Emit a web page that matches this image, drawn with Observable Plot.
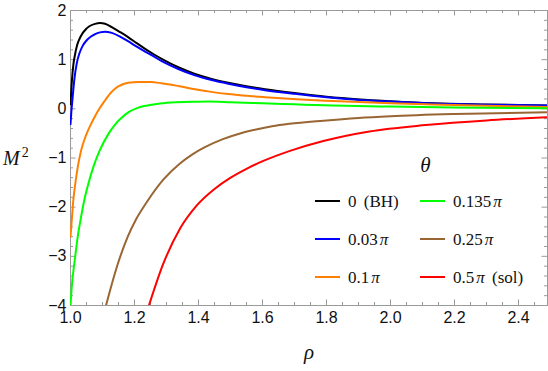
<!DOCTYPE html>
<html><head><meta charset="utf-8">
<script src="https://cdn.jsdelivr.net/npm/d3@7"></script>
<script src="https://cdn.jsdelivr.net/npm/@observablehq/plot@0.6"></script>
<style>html,body{margin:0;padding:0;background:#fff} svg{display:block}</style>
</head><body><div id="chart"></div>
<script>
// ---- data ----
const seriesNames  = ["0 (BH)", "0.03π", "0.1π", "0.135π", "0.25π", "0.5π (sol)"];
const seriesColors = ["#000000", "#0000ff", "#ff8000", "#00ff00", "#996633", "#ff0000"];

const rhoBH = [1.0, 1.0047, 1.009, 1.014, 1.02, 1.028, 1.038, 1.048, 1.059, 1.0766, 1.092, 1.108, 1.129, 1.155, 1.181, 1.207, 1.233, 1.26, 1.285, 1.31, 1.337, 1.389, 1.441, 1.493, 1.55, 1.608, 1.7, 1.8, 1.905, 2.0, 2.13, 2.3, 2.49];
const m2BH  = [0.094, 0.60, 0.90, 1.10, 1.28, 1.42, 1.54, 1.62, 1.68, 1.728, 1.745, 1.73, 1.66, 1.56, 1.455, 1.335, 1.22, 1.11, 1.016, 0.93, 0.846, 0.71, 0.61, 0.53, 0.46, 0.40, 0.32, 0.245, 0.19, 0.155, 0.115, 0.09, 0.07];

const rho003 = [1.0, 1.0025, 1.007, 1.012, 1.02, 1.028, 1.038, 1.05, 1.064, 1.077, 1.092, 1.108, 1.129, 1.155, 1.181, 1.207, 1.233, 1.26, 1.285, 1.31, 1.337, 1.389, 1.441, 1.493, 1.55, 1.608, 1.7, 1.8, 1.905, 2.0, 2.13, 2.3, 2.49];
const m2003  = [-0.31, -0.075, 0.26, 0.60, 0.94, 1.13, 1.28, 1.39, 1.47, 1.52, 1.555, 1.57, 1.545, 1.47, 1.37, 1.265, 1.165, 1.065, 0.97, 0.89, 0.81, 0.68, 0.585, 0.51, 0.44, 0.38, 0.305, 0.235, 0.18, 0.147, 0.11, 0.085, 0.066];

const rho01 = [1.0, 1.0047, 1.0088, 1.015, 1.0225, 1.033, 1.049, 1.064, 1.075, 1.09, 1.108, 1.125, 1.139, 1.16, 1.181, 1.212, 1.25, 1.285, 1.34, 1.389, 1.44, 1.493, 1.55, 1.608, 1.72, 1.82, 2.0, 2.13, 2.3, 2.49];
const m201  = [-2.6, -2.2, -1.86, -1.52, -1.19, -0.85, -0.53, -0.31, -0.17, 0.0, 0.17, 0.32, 0.41, 0.49, 0.53, 0.545, 0.545, 0.52, 0.46, 0.40, 0.345, 0.30, 0.265, 0.236, 0.19, 0.16, 0.115, 0.09, 0.064, 0.037];

const rho0135 = [1.0, 1.0047, 1.0105, 1.017, 1.024, 1.033, 1.043, 1.056, 1.071, 1.09, 1.119, 1.138, 1.158, 1.184, 1.21, 1.24, 1.28, 1.33, 1.38, 1.43, 1.5, 1.6, 1.7, 1.82, 2.0, 2.2, 2.49];
const m20135  = [-4.0, -3.56, -3.22, -2.88, -2.54, -2.2, -1.86, -1.52, -1.19, -0.867, -0.504, -0.329, -0.193, -0.058, 0.02, 0.068, 0.11, 0.135, 0.145, 0.147, 0.135, 0.113, 0.092, 0.068, 0.046, 0.028, 0.01];

const rho025 = [1.105, 1.111, 1.147, 1.179, 1.205, 1.238, 1.29, 1.342, 1.38, 1.42, 1.476, 1.53, 1.58, 1.63, 1.684, 1.79, 1.9, 2.0, 2.2, 2.49];
const m2025  = [-4.15, -4.0, -3.17, -2.6, -2.245, -1.9, -1.44, -1.11, -0.93, -0.78, -0.615, -0.5, -0.42, -0.355, -0.305, -0.24, -0.185, -0.15, -0.105, -0.068];

const rho05 = [1.24, 1.245, 1.29, 1.342, 1.394, 1.452, 1.498, 1.55, 1.6025, 1.686, 1.79, 1.934, 2.11, 2.3, 2.49];
const m205  = [-4.1, -4.0, -3.15, -2.44, -1.97, -1.62, -1.41, -1.22, -1.06, -0.855, -0.655, -0.46, -0.33, -0.235, -0.17];

const xTicks = [1.0, 1.2, 1.4, 1.6, 1.8, 2.0, 2.2, 2.4];
const yTicks = [-4, -3, -2, -1, 0, 1, 2];

// ---- build table ----
const rhoLists = [rhoBH, rho003, rho01, rho0135, rho025, rho05];
const m2Lists  = [m2BH, m2003, m201, m20135, m2025, m205];
const data = [];
rhoLists.forEach((rs, i) => rs.forEach((r, j) => data.push({rho: r, m2: m2Lists[i][j], series: seriesNames[i]})));

const xMinor = d3.range(1.05, 2.49, 0.05).filter(v => Math.abs(v / 0.2 - Math.round(v / 0.2)) > 1e-6);
const yMinor = d3.range(-3.8, 2, 0.2).filter(v => Math.abs(v - Math.round(v)) > 1e-6);

const W = 548, H = 371, mL = 70, mR = 1, mT = 10, mB = 66;
const pw = W - mL - mR, ph = H - mT - mB;
const frameColor = "#9a9a9a";
const major = 5.5, minor = 3;

const chart = Plot.plot({
  width: W, height: H,
  marginLeft: mL, marginRight: mR, marginTop: mT, marginBottom: mB,
  x: {domain: [1, 1 + pw / 320], label: null},
  y: {domain: [-4, 2], label: null},
  color: {domain: seriesNames, range: seriesColors},
  style: {fontFamily: "'Liberation Sans', Arial, sans-serif", fontSize: "16px", color: "#000", background: "#fff"},
  marks: [
    Plot.frame({stroke: frameColor}),
    // bottom ticks
    Plot.tickX(xTicks, {x: d => d, stroke: frameColor, insetTop: ph - major}),
    Plot.tickX(xMinor, {x: d => d, stroke: frameColor, insetTop: ph - minor}),
    // top ticks
    Plot.tickX(xTicks, {x: d => d, stroke: frameColor, insetBottom: ph - major}),
    Plot.tickX(xMinor, {x: d => d, stroke: frameColor, insetBottom: ph - minor}),
    // left ticks
    Plot.tickY(yTicks, {y: d => d, stroke: frameColor, insetRight: pw - major}),
    Plot.tickY(yMinor, {y: d => d, stroke: frameColor, insetRight: pw - minor}),
    // right ticks
    Plot.tickY(yTicks, {y: d => d, stroke: frameColor, insetLeft: pw - major}),
    Plot.tickY(yMinor, {y: d => d, stroke: frameColor, insetLeft: pw - minor}),
    Plot.line(data, {x: "rho", y: "m2", z: "series", stroke: "series", strokeWidth: 2, curve: "monotone-x", clip: true}),
    Plot.axisX({ticks: xTicks, tickSize: 0, tickPadding: 6.5, tickFormat: d3.format(".1f"), label: null, fill: "#111"}),
    Plot.axisY({ticks: yTicks, tickSize: 0, tickPadding: 4, tickFormat: d3.format("d"), label: null, fill: "#111"})
  ]
});
document.getElementById("chart").appendChild(chart);

// ---- labels and legend ----
const svg = d3.select(chart);
const serif = "'Liberation Serif', 'Times New Roman', serif";
const ml = svg.append("text").attr("x", 3).attr("y", 165).attr("text-anchor", "start")
  .attr("font-family", serif).attr("font-size", 20).attr("fill", "#111");
ml.append("tspan").attr("font-style", "italic").text("M");
ml.append("tspan").attr("font-size", 14).attr("dx", 2).attr("dy", -8).text("2");

svg.append("text").attr("x", 309).attr("y", 359).attr("text-anchor", "middle")
  .attr("font-family", serif).attr("font-style", "italic").attr("font-size", 21).attr("fill", "#111").text("ρ");
svg.append("text").attr("x", 425.5).attr("y", 172).attr("text-anchor", "middle")
  .attr("font-family", serif).attr("font-style", "italic").attr("font-size", 21).attr("fill", "#111").text("θ");

const legX = [315, 420], legY = [201, 239, 277];
seriesNames.forEach((name, i) => {
  const col = Math.floor(i / 3), row = i % 3;
  const x0 = legX[col], y0 = legY[row];
  svg.append("line").attr("x1", x0).attr("x2", x0 + 25).attr("y1", y0).attr("y2", y0)
    .attr("stroke", seriesColors[i]).attr("stroke-width", 2);
  const t = svg.append("text").attr("x", x0 + 33).attr("y", y0 + 6).attr("text-anchor", "start")
    .attr("font-family", serif).attr("font-size", 17).attr("fill", "#111");
  const m = name.match(/^([0-9.]+)(π?)(.*)$/);
  t.append("tspan").text(m[1]);
  if (m[2]) t.append("tspan").attr("dx", 2).attr("font-style", "italic").text("π");
  if (m[3]) t.append("tspan").attr("dx", 3).text(m[3].replace(/^\s*/, " "));
});
</script>
</body></html>
